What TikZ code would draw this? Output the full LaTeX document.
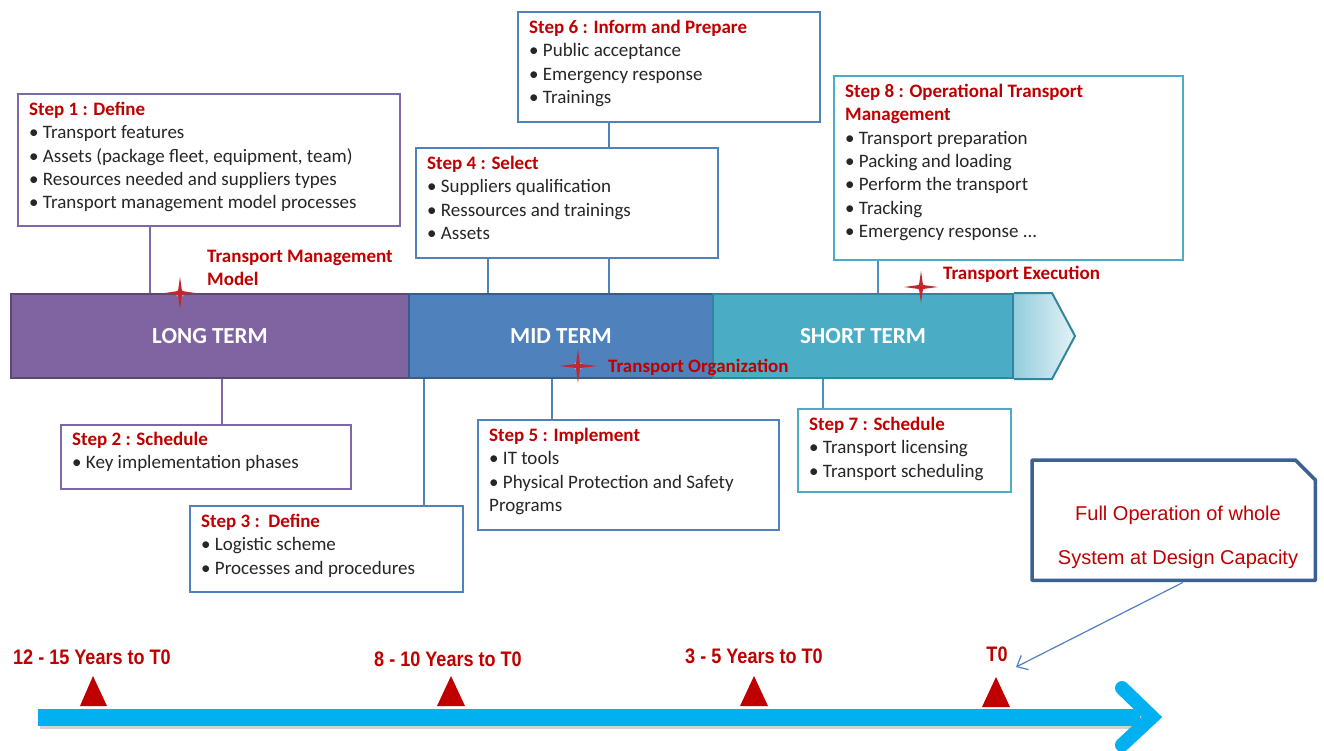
\documentclass[tikz,border=0pt]{standalone}
\usepackage{fontspec}
\setmainfont{Carlito}
\newfontfamily\arialfont{Liberation Sans}
\usetikzlibrary{arrows.meta,calc}
\definecolor{stepred}{HTML}{C00000}
\definecolor{bodytext}{HTML}{262626}
\definecolor{purp}{HTML}{8064A2}
\definecolor{purpdk}{HTML}{5C4776}
\definecolor{purpbox}{HTML}{7E68A6}
\definecolor{blu}{HTML}{4F81BD}
\definecolor{bludk}{HTML}{385D8A}
\definecolor{teal}{HTML}{4BACC6}
\definecolor{tealdk}{HTML}{31859C}
\definecolor{tealbox}{HTML}{4BACC6}
\definecolor{tlblue}{HTML}{00B0F0}
\definecolor{calloutc}{HTML}{3C6190}
\definecolor{starred}{HTML}{C0282D}
\definecolor{trired}{HTML}{C00000}
\tikzset{
  stepbox/.style={draw, line width=2.4pt, fill=white, inner sep=0, anchor=north west},
  steptxt/.style={anchor=north west, inner sep=0, align=left, text=bodytext,
    font=\fontsize{19}{23.3}\selectfont},
  bandbox/.style={draw, line width=2pt, minimum height=84, inner sep=0, anchor=north west,
    text=white, font=\bfseries\fontsize{23}{26}\selectfont},
  conn/.style={line width=2.5pt},
  anno/.style={text=stepred, inner sep=0, align=left, font=\bfseries\fontsize{19}{23}\selectfont},
  yearlab/.style={text=trired, inner sep=0, font=\arialfont\bfseries\fontsize{21}{24}\selectfont},
  cotxt/.style={text=trired, inner sep=0, font=\arialfont\fontsize{20}{24}\selectfont},
  tri/.style={fill=trired},
  pics/spark/.style 2 args={code={
    \fill[starred!35, opacity=0.6] (0,0) circle (4.5);
    \fill[starred] (0,-#2) -- (2,-2) -- (#1,0) -- (2,2) -- (0,#2) -- (-2,2) -- (-#1,0) -- (-2,-2) -- cycle;}}
}
\newcommand{\ttl}[1]{{\color{stepred}\bfseries #1}}
\begin{document}
\begin{tikzpicture}[x=1pt,y=-1pt]
\useasboundingbox (0,0) rectangle (1324,750);
\fill[white] (0,0) rectangle (1324,750);

% ---- band ----
\node[bandbox, fill=purp, draw=purpdk, minimum width=398] (lt) at (10,293) {LONG TERM};
\node[bandbox, fill=blu, draw=bludk, minimum width=304] (mt) at (408,293) {MID TERM};
\node[bandbox, fill=teal, draw=tealdk, minimum width=300] (st) at (712,293) {SHORT TERM};
\shade[left color=teal!60, right color=teal!15]
  (st.north east) -- ($(st.north east)+(38,0)$) -- ($(st.east)+(61,0)$) -- ($(st.south east)+(38,0)$) -- (st.south east) -- cycle;
\draw[tealdk, line width=2pt, line join=miter]
  (st.north east) -- ($(st.north east)+(38,0)$) -- ($(st.east)+(61,0)$) -- ($(st.south east)+(38,0)$) -- (st.south east);

% ---- step boxes ----
\node[stepbox, draw=purpbox, minimum width=382, minimum height=132] (s1) at (17,93) {};
\node[steptxt] (t1) at (29,102) {\ttl{Step 1 : Define}\\
\textbullet\ Transport features\\
\textbullet\ Assets (package fleet, equipment, team)\\
\textbullet\ Resources needed and suppliers types\\
\textbullet\ Transport management model processes};

\node[stepbox, draw=purpbox, minimum width=290, minimum height=64] (s2) at (60,424) {};
\node[steptxt] (t2) at (72,432) {\ttl{Step 2 : Schedule}\\
\textbullet\ Key implementation phases};

\node[stepbox, draw=blu, minimum width=273, minimum height=86] (s3) at (189,505) {};
\node[steptxt] (t3) at (201,514) {\ttl{Step 3 :\ \ Define}\\
\textbullet\ Logistic scheme\\
\textbullet\ Processes and procedures};

\node[stepbox, draw=blu, minimum width=302, minimum height=110] (s4) at (415,147) {};
\node[steptxt] (t4) at (427,156) {\ttl{Step 4 : Select}\\
\textbullet\ Suppliers qualification\\
\textbullet\ Ressources and trainings\\
\textbullet\ Assets};

\node[stepbox, draw=blu, minimum width=301, minimum height=110] (s5) at (477,419) {};
\node[steptxt] (t5) at (489,428) {\ttl{Step 5 : Implement}\\
\textbullet\ IT tools\\
\textbullet\ Physical Protection and Safety\\
Programs};

\node[stepbox, draw=blu, minimum width=302, minimum height=110] (s6) at (517,11) {};
\node[steptxt] (t6) at (529,20) {\ttl{Step 6 : Inform and Prepare}\\
\textbullet\ Public acceptance\\
\textbullet\ Emergency response\\
\textbullet\ Trainings};

\node[stepbox, draw=tealbox, minimum width=213, minimum height=83] (s7) at (797,408) {};
\node[steptxt] (t7) at (809,417) {\ttl{Step 7 : Schedule}\\
\textbullet\ Transport licensing\\
\textbullet\ Transport scheduling};

\node[stepbox, draw=tealbox, minimum width=349, minimum height=184] (s8) at (833,75) {};
\node[steptxt] (t8) at (845,84) {\ttl{Step 8 : Operational Transport}\\
\ttl{Management}\\
\textbullet\ Transport preparation\\
\textbullet\ Packing and loading\\
\textbullet\ Perform the transport\\
\textbullet\ Tracking\\
\textbullet\ Emergency response ...};

% ---- connectors ----
\coordinate (c1) at ($(s1.south west)+(133,0)$);
\draw[conn, purpbox] (c1) -- (c1 |- lt.north);
\coordinate (c2) at ($(s2.north west)+(162,0)$);
\draw[conn, purpbox] (c2 |- lt.south) -- (c2);
\coordinate (c3) at ($(s3.north west)+(235,0)$);
\draw[conn, blu] (c3 |- mt.south) -- (c3);
\coordinate (c4a) at ($(s4.south west)+(73,0)$);
\draw[conn, blu] (c4a) -- (c4a |- mt.north);
\coordinate (c4b) at ($(s4.south west)+(194,0)$);
\draw[conn, blu] (c4b) -- (c4b |- mt.north);
\coordinate (c6) at ($(s6.south west)+(92,0)$);
\draw[conn, blu] (c6) -- (c6 |- s4.north);
\coordinate (c5) at ($(s5.north west)+(75,0)$);
\draw[conn, blu] (c5 |- mt.south) -- (c5);
\coordinate (c7) at ($(s7.north west)+(26,0)$);
\draw[conn, blu!70!teal] (c7 |- st.south) -- (c7);
\coordinate (c8) at ($(s8.south west)+(45,0)$);
\draw[conn, blu!70!teal] (c8) -- (c8 |- st.north);

% ---- stars & annotations ----
\pic at (180,293) {spark={15}{16}};
\node[anno, anchor=north west] (tmm) at (207,250) {Transport Management\\Model};
\pic at (578,366) {spark={19}{17}};
\node[anno, anchor=west] (tor) at (608,367) {Transport Organization};
\pic at (921,287) {spark={17}{16}};
\node[anno, anchor=west] (tex) at (943,274) {Transport Execution};

% ---- callout ----
\node[minimum width=283, minimum height=120, inner sep=0, anchor=north west] (co) at (1032,460) {};
\draw[calloutc, line width=3.5pt, line join=round]
  (co.north west) -- ($(co.north east)+(-20,0)$) -- ($(co.north east)+(0,20)$) -- (co.south east) -- (co.south west) -- cycle;
\node[cotxt] (co1) at (1178,515) {Full Operation of whole};
\node[cotxt] (co2) at (1178,559) {System at Design Capacity};

% ---- timeline ----
\draw[black!35, line width=17pt, opacity=0.5] (40,720) -- (1145,720);
\draw[tlblue, line width=17pt] (38,717) -- (1140,717);
\draw[tlblue, line width=14pt, line cap=round, line join=miter] (1122,688) -- (1152,717) -- (1122,745);

\fill[tri] (80,706) -- (93,676) -- (107,706) -- cycle;
\fill[tri] (437,706) -- (451,676) -- (465,706) -- cycle;
\fill[tri] (740,706) -- (754,676) -- (768,706) -- cycle;
\fill[tri] (982,707) -- (996,677) -- (1010,707) -- cycle;

\node[yearlab] (y1) at (92,657) {\scalebox{0.86}[1]{12 - 15 Years to T0}};
\node[yearlab] (y2) at (448,659) {\scalebox{0.86}[1]{8 - 10 Years to T0}};
\node[yearlab] (y3) at (754,656) {\scalebox{0.86}[1]{3 - 5 Years to T0}};
\node[yearlab] (y4) at (997,654) {\scalebox{0.86}[1]{T0}};

\coordinate (ptrend) at (1016,667);
\draw[blu, line width=1.2pt, -{Straight Barb[length=9pt,width=16pt]}] ($(co.south west)+(151,2)$) -- (ptrend);
\end{tikzpicture}
\end{document}
